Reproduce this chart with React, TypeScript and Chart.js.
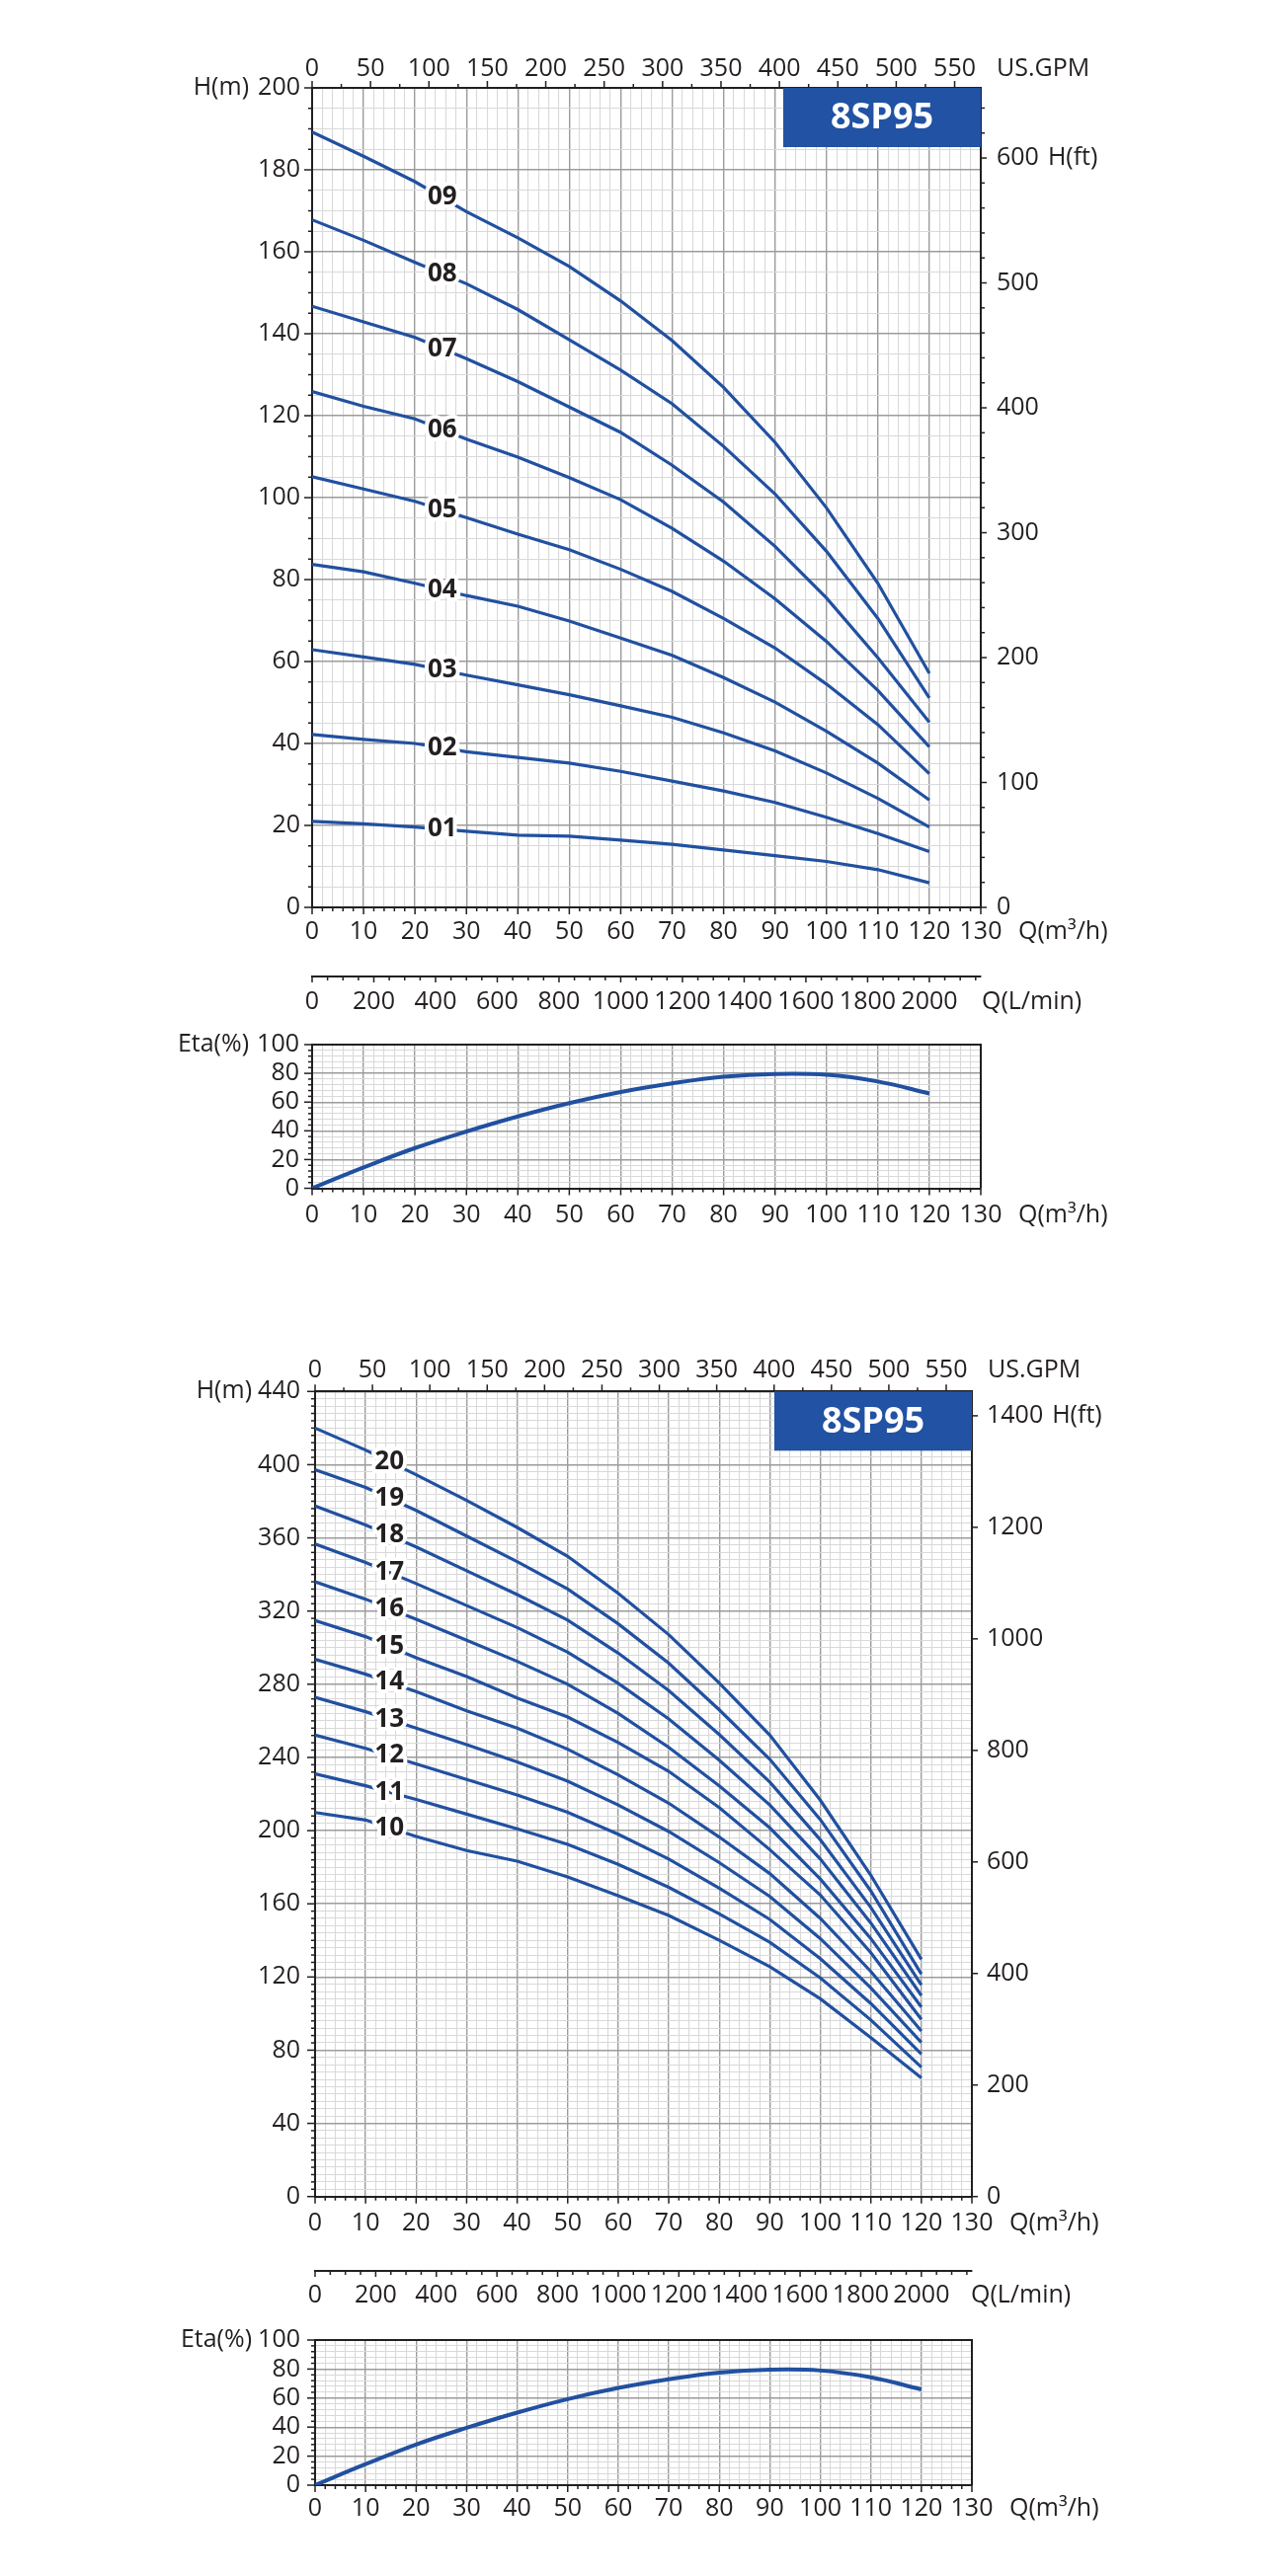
import { useEffect, useRef } from 'react';
import Chart from 'chart.js/auto';

const FONT = '"Open Sans", "Noto Sans", sans-serif';
const INK = '#231f20';
const CURVE_BLUE = '#2150a0';
const BADGE_BLUE = '#2152a3';
const GRID_MAJOR = '#9c9c9c';
const GRID_MINOR = '#d9d9d9';

const M3H_TO_GPM = 4.40287;
const M3H_TO_LPM = 1000 / 60;
const M_TO_FT = 3.28084;

const modelName = '8SP95';

// flow of every curve point, m3/h
const flowPoints = [0, 10, 20, 30, 40, 50, 60, 70, 80, 90, 100, 110, 120];

// head in m, 8SP95-01 ... 8SP95-09
const head01 = [21.0, 20.4, 19.6, 18.6, 17.6, 17.4, 16.4, 15.4, 14.0, 12.6, 11.2, 9.2, 6.0];
const head02 = [42.2, 41.0, 40.0, 38.0, 36.6, 35.2, 33.2, 30.8, 28.4, 25.6, 22.0, 18.0, 13.6];
const head03 = [62.9, 61.1, 59.3, 56.7, 54.3, 51.9, 49.2, 46.4, 42.6, 38.2, 32.8, 26.6, 19.6];
const head04 = [83.7, 81.9, 79.1, 76.1, 73.5, 69.9, 65.7, 61.5, 56.1, 50.1, 43.0, 35.2, 26.2];
const head05 = [105.1, 102.1, 99.1, 95.1, 91.1, 87.3, 82.5, 77.1, 70.5, 63.3, 54.5, 44.6, 32.6];
const head06 = [125.9, 122.3, 119.2, 114.3, 109.9, 104.9, 99.5, 92.5, 84.5, 75.3, 64.9, 52.9, 39.2];
const head07 = [146.7, 142.9, 139.1, 133.9, 128.3, 122.1, 115.9, 107.9, 98.9, 88.1, 75.5, 60.9, 45.2];
const head08 = [167.8, 162.8, 157.4, 152.2, 145.9, 138.5, 131.1, 122.9, 112.5, 100.9, 86.9, 70.5, 51.1];
const head09 = [189.2, 183.3, 177.1, 169.8, 163.4, 156.4, 148.0, 138.3, 126.9, 113.5, 97.5, 79.1, 57.1];

// head in m, 8SP95-10 ... 8SP95-20
const head10 = [209.9, 205.8, 196.8, 189.1, 183.3, 174.7, 164.4, 153.6, 140.1, 125.6, 108.1, 86.9, 64.9];
const head11 = [231.0, 224.5, 217.0, 209.0, 201.0, 192.5, 181.5, 169.0, 154.5, 139.0, 119.5, 96.5, 70.7];
const head12 = [252.2, 245.0, 236.5, 228.0, 219.5, 210.0, 198.0, 184.5, 168.5, 151.5, 130.0, 105.5, 77.9];
const head13 = [272.9, 265.0, 256.0, 247.0, 237.5, 227.0, 214.0, 199.5, 182.5, 164.0, 141.0, 114.0, 84.2];
const head14 = [293.6, 285.5, 276.0, 265.5, 256.0, 244.5, 230.5, 215.0, 196.5, 176.5, 152.0, 123.0, 90.5];
const head15 = [314.8, 306.0, 294.5, 284.2, 272.5, 262.1, 248.1, 232.4, 212.6, 189.6, 164.8, 133.3, 96.8];
const head16 = [336.0, 326.5, 315.5, 304.0, 292.5, 280.0, 264.0, 245.5, 224.5, 201.5, 173.5, 141.0, 103.6];
const head17 = [356.7, 346.5, 335.0, 323.0, 311.0, 297.5, 280.5, 261.0, 238.5, 214.0, 184.5, 149.5, 109.9];
const head18 = [377.4, 367.0, 355.0, 342.0, 329.0, 315.0, 297.0, 276.5, 252.5, 226.5, 195.0, 158.0, 115.7];
const head19 = [397.2, 387.5, 375.0, 361.0, 347.0, 332.0, 313.0, 291.5, 266.0, 239.0, 206.0, 167.0, 121.6];
const head20 = [420.0, 408.0, 394.5, 380.5, 365.7, 349.9, 329.7, 307.1, 280.6, 252.2, 216.6, 175.6, 129.7];

// efficiency, %
const etaValues = [0, 14.5, 28.0, 39.5, 50.0, 59.3, 67.0, 73.0, 77.6, 79.6, 79.0, 74.3, 66.0];

// labelled ticks
const qLabels = [0, 10, 20, 30, 40, 50, 60, 70, 80, 90, 100, 110, 120, 130];
const gpmLabels = [0, 50, 100, 150, 200, 250, 300, 350, 400, 450, 500, 550];
const lpmLabels = [0, 200, 400, 600, 800, 1000, 1200, 1400, 1600, 1800, 2000];
const etaLabels = [0, 20, 40, 60, 80, 100];
const headLabelsLow = [0, 20, 40, 60, 80, 100, 120, 140, 160, 180, 200];
const headLabelsHigh = [0, 40, 80, 120, 160, 200, 240, 280, 320, 360, 400, 440];
const ftLabelsLow = [0, 100, 200, 300, 400, 500, 600];
const ftLabelsHigh = [0, 200, 400, 600, 800, 1000, 1200, 1400];

const lowStages = [
  { name: '01', values: head01 },
  { name: '02', values: head02 },
  { name: '03', values: head03 },
  { name: '04', values: head04 },
  { name: '05', values: head05 },
  { name: '06', values: head06 },
  { name: '07', values: head07 },
  { name: '08', values: head08 },
  { name: '09', values: head09 },
];

const highStages = [
  { name: '10', values: head10 },
  { name: '11', values: head11 },
  { name: '12', values: head12 },
  { name: '13', values: head13 },
  { name: '14', values: head14 },
  { name: '15', values: head15 },
  { name: '16', values: head16 },
  { name: '17', values: head17 },
  { name: '18', values: head18 },
  { name: '19', values: head19 },
  { name: '20', values: head20 },
];

const steps = (max: number, step: number) => {
  const out: number[] = [];
  for (let v = 0; v <= max + 1e-9; v += step) out.push(Math.round(v * 1000) / 1000);
  return out;
};

const has = (list: number[], v: number | undefined) =>
  v !== undefined && list.some((l) => Math.abs(l - v) < 1e-6);

function valueAt(values: number[], q: number) {
  for (let i = 1; i < flowPoints.length; i++) {
    if (q <= flowPoints[i]) {
      const t = (q - flowPoints[i - 1]) / (flowPoints[i] - flowPoints[i - 1]);
      return values[i - 1] + t * (values[i] - values[i - 1]);
    }
  }
  return values[values.length - 1];
}

type Side = 'left' | 'right' | 'top' | 'bottom';
type AxisSpec = {
  id: string;
  side: Side;
  max: number;
  step: number;
  labels: number[];
  size: number;
  pad: number;
  major: number;
  minor: number;
  grid?: boolean;
  weight?: number;
};

function buildScale(a: AxisSpec) {
  const vertical = a.side === 'left' || a.side === 'right';
  return {
    type: 'linear',
    axis: vertical ? 'y' : 'x',
    position: a.side,
    min: 0,
    max: a.max,
    weight: a.weight ?? 0,
    afterBuildTicks: (s: any) => {
      s.ticks = steps(a.max, a.step).map((value) => ({ value }));
    },
    afterFit: (s: any) => {
      if (vertical) s.width = a.size;
      else s.height = a.size;
    },
    border: { display: true, color: INK, width: 2 },
    grid: {
      drawOnChartArea: !!a.grid,
      drawTicks: false,
      color: (c: any) => (has(a.labels, c.tick?.value) ? GRID_MAJOR : GRID_MINOR),
      lineWidth: (c: any) => (has(a.labels, c.tick?.value) ? 1.4 : 1.1),
    },
    ticks: {
      autoSkip: false,
      minRotation: 0,
      maxRotation: 0,
      padding: a.pad,
      color: INK,
      font: { family: FONT, size: 25 },
      callback: (v: number) => (has(a.labels, v) ? String(v) : ''),
    },
  };
}

function drawTickMarks(chart: any, axes: AxisSpec[]) {
  const ctx = chart.ctx;
  ctx.save();
  ctx.strokeStyle = INK;
  ctx.lineWidth = 1.5;
  for (const a of axes) {
    const s = chart.scales[a.id];
    for (const t of s.ticks) {
      const len = has(a.labels, t.value) ? a.major : a.minor;
      const p = s.getPixelForValue(t.value);
      ctx.beginPath();
      if (a.side === 'bottom') {
        ctx.moveTo(p, s.top);
        ctx.lineTo(p, s.top + len);
      } else if (a.side === 'top') {
        ctx.moveTo(p, s.bottom);
        ctx.lineTo(p, s.bottom - len);
      } else if (a.side === 'left') {
        ctx.moveTo(s.right, p);
        ctx.lineTo(s.right - len, p);
      } else {
        ctx.moveTo(s.left, p);
        ctx.lineTo(s.left + len, p);
      }
      ctx.stroke();
    }
  }
  ctx.restore();
}

type HeadPanel = {
  stages: { name: string; values: number[] }[];
  hMax: number;
  hStep: number;
  hLabels: number[];
  ftStep: number;
  ftLabels: number[];
  labelQ: number;
  left: number;
  right: number;
  gpmSize: number;
  qSize: number;
  lpmSize: number;
  gpmPad: number;
  qPad: number;
  lpmPad: number;
  yPad: number;
  ftPad: number;
  lpmTitleDx: number;
};

function headConfig(p: HeadPanel) {
  const axes: AxisSpec[] = [
    { id: 'x', side: 'bottom', max: 130, step: 2, labels: qLabels, size: p.qSize, pad: p.qPad, major: 7, minor: 4, grid: true, weight: 0 },
    { id: 'xL', side: 'bottom', max: 130 * M3H_TO_LPM, step: 50, labels: lpmLabels, size: p.lpmSize, pad: p.lpmPad, major: 6, minor: 4, weight: 1 },
    { id: 'xG', side: 'top', max: 130 * M3H_TO_GPM, step: 25, labels: gpmLabels, size: p.gpmSize, pad: p.gpmPad, major: 7, minor: 4 },
    { id: 'y', side: 'left', max: p.hMax, step: p.hStep, labels: p.hLabels, size: p.left, pad: p.yPad, major: 8, minor: 4, grid: true },
    { id: 'yF', side: 'right', max: p.hMax * M_TO_FT, step: p.ftStep, labels: p.ftLabels, size: 1300 - p.right, pad: p.ftPad, major: 6, minor: 4 },
  ];
  const scales: any = {};
  axes.forEach((a) => (scales[a.id] = buildScale(a)));

  const extras = {
    id: 'headExtras',
    afterDatasetsDraw(chart: any) {
      const { ctx } = chart;
      const x = chart.scales.x;
      const y = chart.scales.y;
      ctx.save();
      ctx.font = `bold 26px ${FONT}`;
      ctx.textAlign = 'center';
      ctx.textBaseline = 'middle';
      ctx.lineJoin = 'round';
      for (const st of p.stages) {
        const px = x.getPixelForValue(p.labelQ);
        const py = y.getPixelForValue(valueAt(st.values, p.labelQ));
        ctx.strokeStyle = '#ffffff';
        ctx.lineWidth = 8;
        ctx.strokeText(st.name, px, py);
        ctx.fillStyle = INK;
        ctx.fillText(st.name, px, py);
      }
      ctx.restore();
    },
    afterDraw(chart: any) {
      drawTickMarks(chart, axes);
      const { ctx, chartArea: a } = chart;
      const s = chart.scales;
      ctx.save();
      ctx.fillStyle = BADGE_BLUE;
      ctx.fillRect(a.right - 200, a.top, 200, 60);
      ctx.fillStyle = '#ffffff';
      ctx.font = `bold 36px ${FONT}`;
      ctx.textAlign = 'center';
      ctx.textBaseline = 'middle';
      ctx.fillText(modelName, a.right - 100, a.top + 31);

      ctx.fillStyle = INK;
      ctx.font = `25px ${FONT}`;
      ctx.textAlign = 'right';
      ctx.fillText('H(m)', a.left - 64, a.top);
      ctx.textAlign = 'left';
      ctx.fillText('US.GPM', a.right + 16, a.top - p.gpmPad - 15);
      const topFt = p.ftLabels[p.ftLabels.length - 1];
      const ftX = a.right + p.ftPad + ctx.measureText(String(topFt)).width + 9;
      ctx.fillText('H(ft)', ftX, s.yF.getPixelForValue(topFt));
      ctx.fillText('Q(m³/h)', a.right + 38, a.bottom + p.qPad + 15);
      ctx.fillText('Q(L/min)', a.right + p.lpmTitleDx, s.xL.top + p.lpmPad + 15);
      ctx.restore();
    },
  };

  return {
    type: 'line',
    data: {
      datasets: p.stages.map((st) => ({
        label: st.name,
        data: flowPoints.map((q, i) => ({ x: q, y: st.values[i] })),
        xAxisID: 'x',
        yAxisID: 'y',
        borderColor: CURVE_BLUE,
        borderWidth: 3.2,
        pointRadius: 0,
        tension: 0,
        fill: false,
      })),
    },
    options: {
      responsive: false,
      animation: false,
      events: [],
      layout: { padding: 0 },
      plugins: { legend: { display: false }, tooltip: { enabled: false } },
      scales,
    },
    plugins: [extras],
  };
}

type EtaPanel = {
  left: number;
  right: number;
  padTop: number;
  qSize: number;
  qPad: number;
  yPad: number;
};

function etaConfig(p: EtaPanel) {
  const axes: AxisSpec[] = [
    { id: 'x', side: 'bottom', max: 130, step: 2, labels: qLabels, size: p.qSize, pad: p.qPad, major: 7, minor: 4, grid: true },
    { id: 'y', side: 'left', max: 100, step: 4, labels: etaLabels, size: p.left, pad: p.yPad, major: 8, minor: 4, grid: true },
  ];
  const scales: any = {};
  axes.forEach((a) => (scales[a.id] = buildScale(a)));

  const extras = {
    id: 'etaExtras',
    afterDraw(chart: any) {
      drawTickMarks(chart, axes);
      const { ctx, chartArea: a } = chart;
      ctx.save();
      ctx.strokeStyle = INK;
      ctx.lineWidth = 2;
      ctx.beginPath();
      ctx.moveTo(a.left, a.top);
      ctx.lineTo(a.right, a.top);
      ctx.lineTo(a.right, a.bottom);
      ctx.stroke();
      ctx.fillStyle = INK;
      ctx.font = `25px ${FONT}`;
      ctx.textBaseline = 'middle';
      ctx.textAlign = 'right';
      ctx.fillText('Eta(%)', a.left - 64, a.top);
      ctx.textAlign = 'left';
      ctx.fillText('Q(m³/h)', a.right + 38, a.bottom + p.qPad + 15);
      ctx.restore();
    },
  };

  return {
    type: 'line',
    data: {
      datasets: [
        {
          label: 'Eta',
          data: flowPoints.map((q, i) => ({ x: q, y: etaValues[i] })),
          xAxisID: 'x',
          yAxisID: 'y',
          borderColor: CURVE_BLUE,
          borderWidth: 4,
          pointRadius: 0,
          tension: 0.4,
          fill: false,
        },
      ],
    },
    options: {
      responsive: false,
      animation: false,
      events: [],
      layout: { padding: { top: p.padTop, right: 1300 - p.right, left: 0, bottom: 0 } },
      plugins: { legend: { display: false }, tooltip: { enabled: false } },
      scales,
    },
    plugins: [extras],
  };
}

const lowHead = () =>
  headConfig({
    stages: lowStages,
    hMax: 200,
    hStep: 5,
    hLabels: headLabelsLow,
    ftStep: 20,
    ftLabels: ftLabelsLow,
    labelQ: 25.3,
    left: 316,
    right: 993,
    gpmSize: 89,
    qSize: 70,
    lpmSize: 56,
    gpmPad: 4,
    qPad: 10,
    lpmPad: 11,
    yPad: 12,
    ftPad: 16,
    lpmTitleDx: 1,
  });

const lowEta = () => etaConfig({ left: 316, right: 993, padTop: 23.5, qSize: 66.5, qPad: 12, yPad: 13 });

const highHead = () =>
  headConfig({
    stages: highStages,
    hMax: 440,
    hStep: 4,
    hLabels: headLabelsHigh,
    ftStep: 200,
    ftLabels: ftLabelsHigh,
    labelQ: 14.7,
    left: 319,
    right: 984,
    gpmSize: 89.3,
    qSize: 75.3,
    lpmSize: 65,
    gpmPad: 6,
    qPad: 12,
    lpmPad: 10,
    yPad: 15,
    ftPad: 15,
    lpmTitleDx: -1,
  });

const highEta = () => etaConfig({ left: 319, right: 984, padTop: 26.7, qSize: 73, qPad: 9, yPad: 15 });

function ChartCanvas({ top, height, config }: { top: number; height: number; config: () => any }) {
  const ref = useRef<HTMLCanvasElement>(null);
  useEffect(() => {
    if (!ref.current) return;
    const chart = new Chart(ref.current, config());
    return () => {
      chart.destroy();
    };
  }, [config]);
  return (
    <canvas
      ref={ref}
      width={1300}
      height={height}
      style={{ position: 'absolute', left: 0, top, width: 1300, height }}
    />
  );
}

export default function App() {
  return (
    <div style={{ position: 'absolute', left: 0, top: 0, width: 1300, height: 2609, background: '#ffffff' }}>
      <ChartCanvas top={0} height={1045} config={lowHead} />
      <ChartCanvas top={1030} height={240} config={lowEta} />
      <ChartCanvas top={1320} height={1045} config={highHead} />
      <ChartCanvas top={2340} height={250} config={highEta} />
    </div>
  );
}
